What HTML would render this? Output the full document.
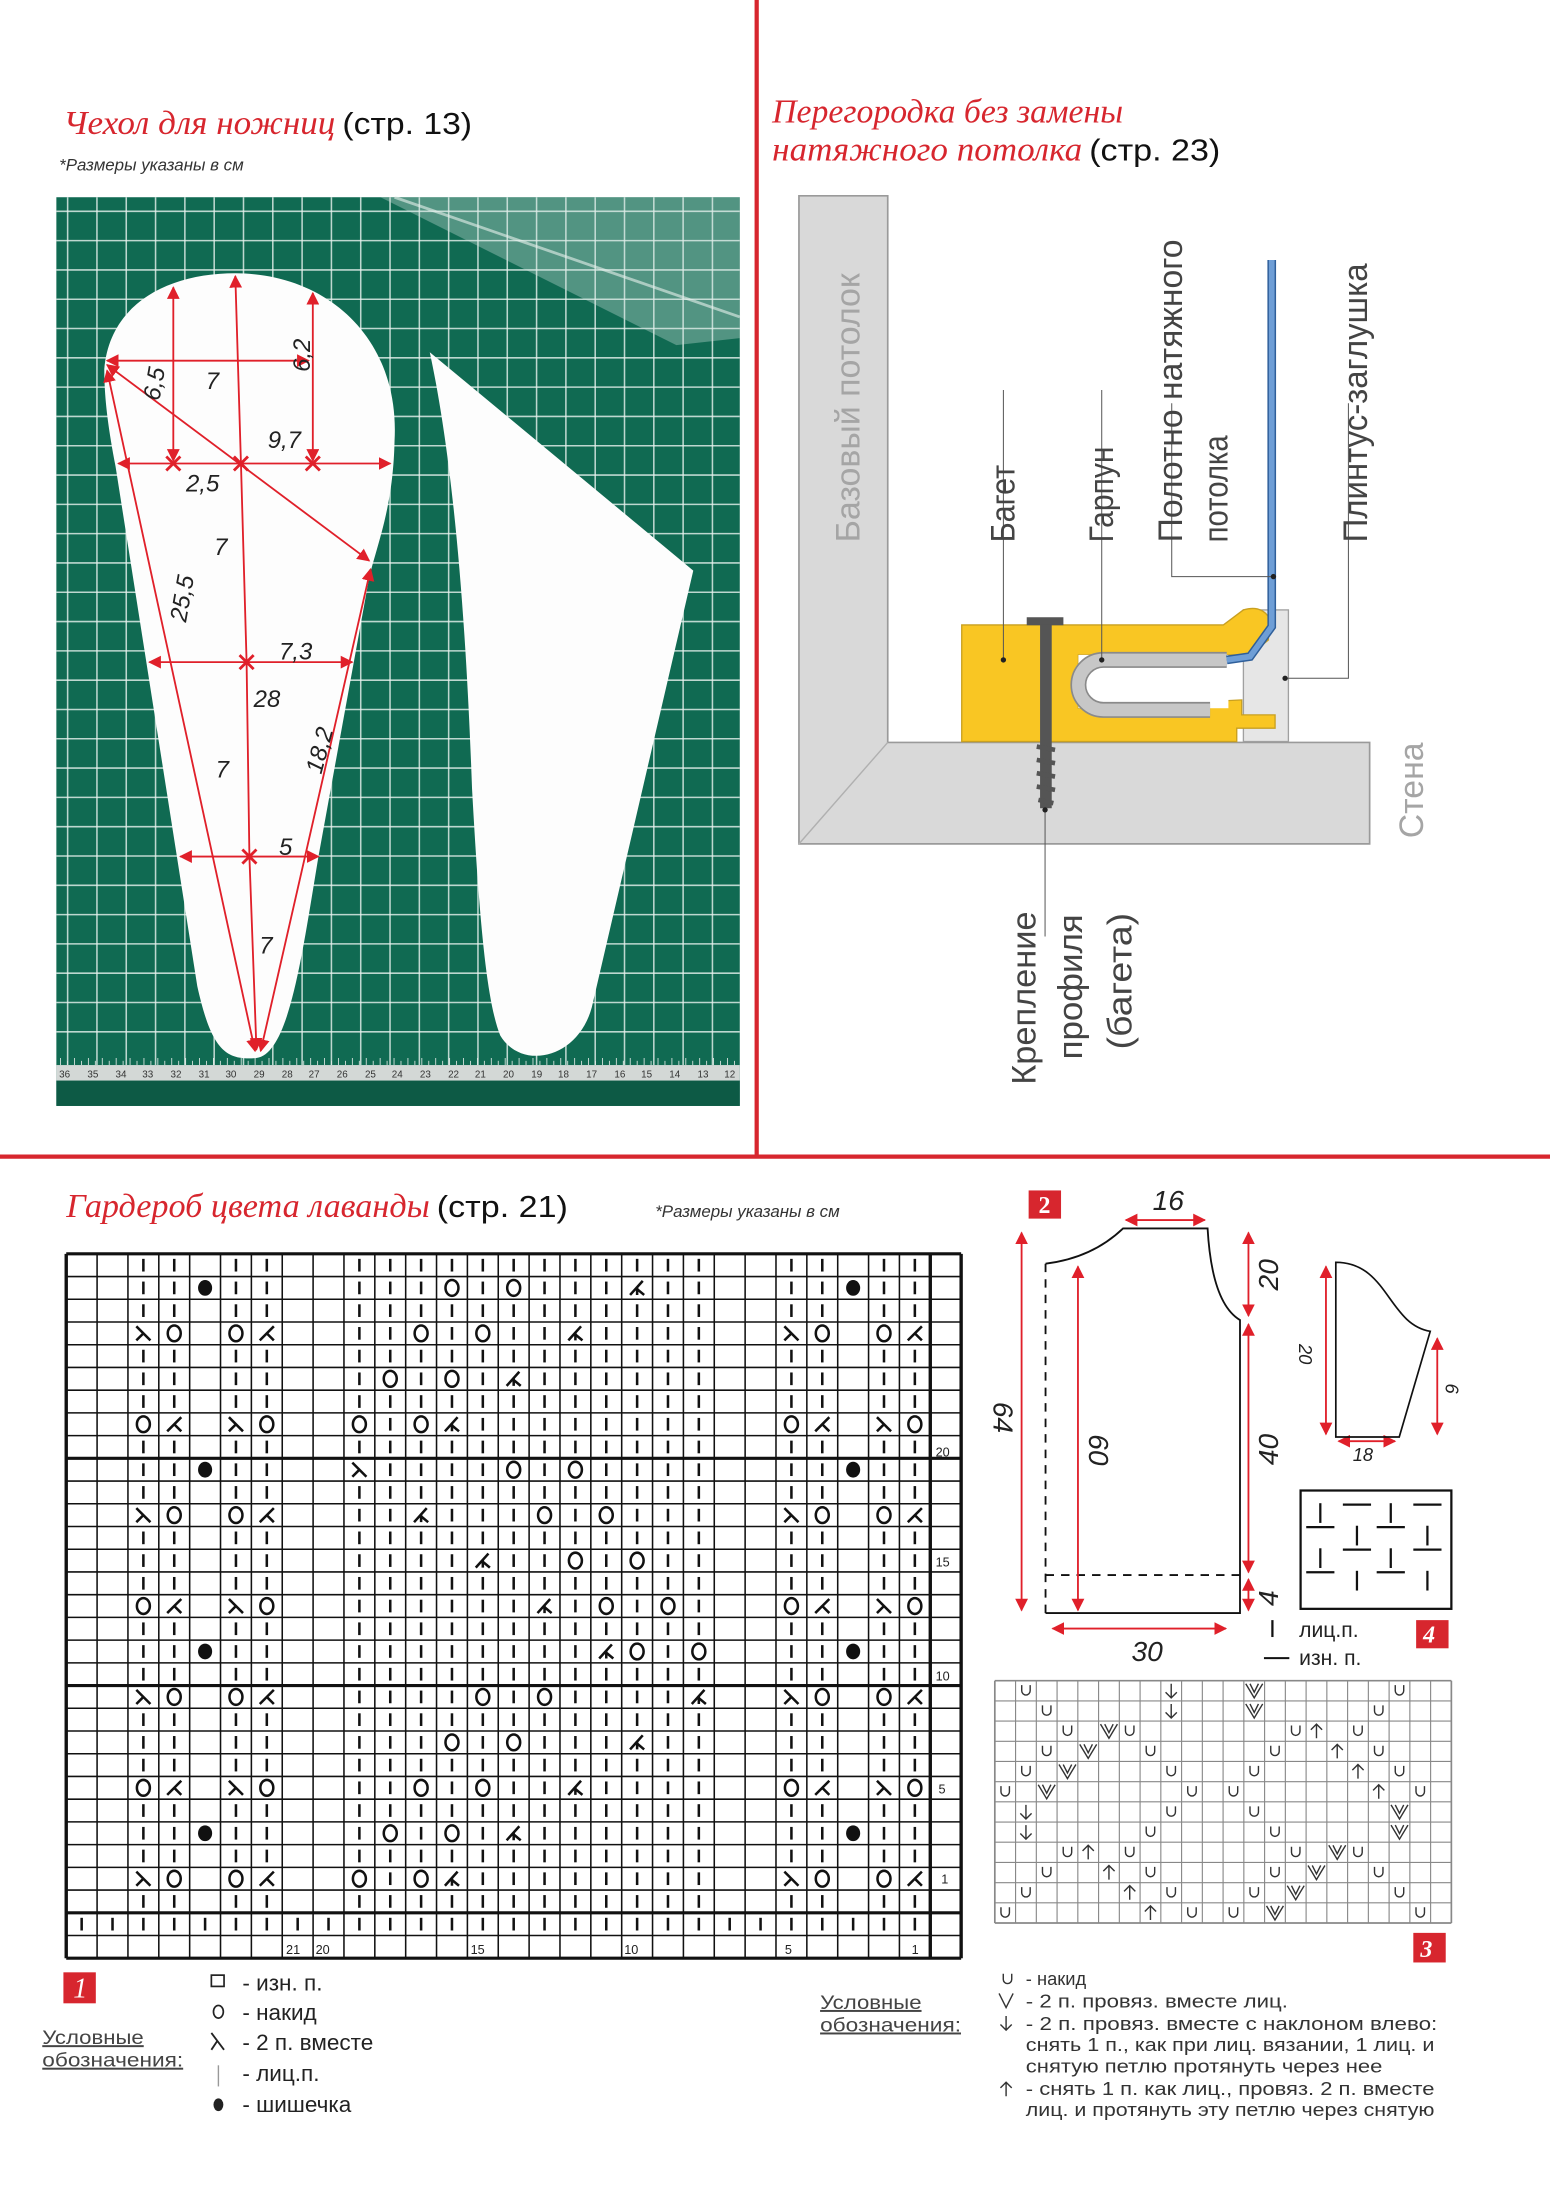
<!DOCTYPE html>
<html><head><meta charset="utf-8"><style>
html,body{margin:0;padding:0;background:#fff;}
svg{display:block}
.s{font-family:"Liberation Sans","DejaVu Sans",sans-serif}
.t{font-family:"Liberation Serif",serif;font-style:italic;fill:#d7262e}
.dim{font-family:"Liberation Sans",sans-serif;font-style:italic;font-size:17px;fill:#222}
.red{stroke:#e0202a;stroke-width:1.3;fill:none}
.lbl{font-family:"Liberation Sans",sans-serif;font-size:24px;fill:#444}
</style></head><body>
<svg id="S" width="1550" height="2209" viewBox="0 0 1100 1568" preserveAspectRatio="none" xmlns="http://www.w3.org/2000/svg">
<defs>
<marker id="ar" viewBox="0 0 10 10" refX="9" refY="5" markerWidth="7" markerHeight="7" orient="auto-start-reverse"><path d="M0,0 L10,5 L0,10 z" fill="#e0202a"/></marker>
</defs>
<line x1="537" y1="0" x2="537" y2="822" stroke="#d7262e" stroke-width="3"/>
<line x1="0" y1="821" x2="1100" y2="821" stroke="#d7262e" stroke-width="3"/>

<text x="45" y="95" class="t" font-size="24" textLength="193" lengthAdjust="spacingAndGlyphs">Чехол для ножниц</text>
<text x="243" y="95" class="s" font-size="22" fill="#111" textLength="92" lengthAdjust="spacingAndGlyphs">(стр. 13)</text>
<text x="42" y="121" class="s" font-size="12" font-style="italic" fill="#333">*Размеры указаны в см</text>

<rect x="40" y="140" width="485" height="645" fill="#106a52"/>
<g id="grid"></g>
<polygon points="270,140 525,140 525,240 480,245" fill="#cfe3dc" opacity="0.35"/>
<line x1="280" y1="140" x2="525" y2="225" stroke="#e8f2ee" stroke-width="2" opacity="0.6"/>
<rect x="40" y="767" width="485" height="18" fill="#0d5a45"/>
<rect x="40" y="756" width="485" height="11" fill="#d3d8d6"/>
<g id="ruler"></g>
<g class="s" font-size="7" fill="#333">
<text x="42" y="765">36</text><text x="62" y="765">35</text><text x="82" y="765">34</text><text x="101" y="765">33</text><text x="121" y="765">32</text><text x="141" y="765">31</text><text x="160" y="765">30</text><text x="180" y="765">29</text><text x="200" y="765">28</text><text x="219" y="765">27</text><text x="239" y="765">26</text><text x="259" y="765">25</text><text x="278" y="765">24</text><text x="298" y="765">23</text><text x="318" y="765">22</text><text x="337" y="765">21</text><text x="357" y="765">20</text><text x="377" y="765">19</text><text x="396" y="765">18</text><text x="416" y="765">17</text><text x="436" y="765">16</text><text x="455" y="765">15</text><text x="475" y="765">14</text><text x="495" y="765">13</text><text x="514" y="765">12</text>
</g>

<path d="M74,262 C78,215 120,194 167,194 C232,194 284,240 280,313 C279,360 268,385 262,410 L226,608 C214,680 205,748 182,751 C160,753 150,745 140,700 L82,331 C76,300 74,280 74,262 Z" fill="#fdfdfd"/>
<path d="M305,250 L492,405 L420,715 C410,752 370,760 355,735 C345,710 340,650 335,560 C330,420 320,320 305,250 Z" fill="#fdfdfd"/>

<g class="red">
<polyline points="167,196 171,329 175,470 177,608 182,745" marker-start="url(#ar)" marker-end="url(#ar)"/>
<line x1="76" y1="256" x2="219" y2="256" marker-start="url(#ar)" marker-end="url(#ar)"/>
<line x1="123" y1="204" x2="123" y2="327" marker-start="url(#ar)" marker-end="url(#ar)"/>
<line x1="222" y1="208" x2="222" y2="327" marker-start="url(#ar)" marker-end="url(#ar)"/>
<line x1="84" y1="329" x2="277" y2="329" marker-start="url(#ar)" marker-end="url(#ar)"/>
<line x1="76" y1="259" x2="262" y2="398" marker-start="url(#ar)" marker-end="url(#ar)"/>
<line x1="76" y1="263" x2="181" y2="746" marker-start="url(#ar)" marker-end="url(#ar)"/>
<line x1="106" y1="470" x2="250" y2="470" marker-start="url(#ar)" marker-end="url(#ar)"/>
<line x1="263" y1="404" x2="185" y2="746" marker-start="url(#ar)" marker-end="url(#ar)"/>
<line x1="128" y1="608" x2="226" y2="608" marker-start="url(#ar)" marker-end="url(#ar)"/>
</g>
<g stroke="#e0202a" stroke-width="2">
<path d="M118,324 l10,10 M128,324 l-10,10 M166,324 l10,10 M176,324 l-10,10 M217,324 l10,10 M227,324 l-10,10 M170,465 l10,10 M180,465 l-10,10 M172,603 l10,10 M182,603 l-10,10"/>
</g>
<text x="146" y="276" class="dim">7</text>
<text transform="translate(113,285) rotate(-80)" class="dim">6,5</text>
<text transform="translate(220,264) rotate(-90)" class="dim">6,2</text>
<text x="132" y="349" class="dim">2,5</text>
<text x="190" y="318" class="dim">9,7</text>
<text x="152" y="394" class="dim">7</text>
<text transform="translate(132,442) rotate(-80)" class="dim">25,5</text>
<text x="198" y="468" class="dim">7,3</text>
<text x="180" y="502" class="dim">28</text>
<text x="153" y="552" class="dim">7</text>
<text transform="translate(228,550) rotate(-75)" class="dim">18,2</text>
<text x="198" y="607" class="dim">5</text>
<text x="184" y="677" class="dim">7</text>

<text x="548" y="87" class="t" font-size="24" textLength="249" lengthAdjust="spacingAndGlyphs">Перегородка без замены</text>
<text x="548" y="114" class="t" font-size="24" textLength="220" lengthAdjust="spacingAndGlyphs">натяжного потолка</text>
<text x="773" y="114" class="s" font-size="22" fill="#111" textLength="93" lengthAdjust="spacingAndGlyphs">(стр. 23)</text>

<path d="M567,139 L630,139 L630,527 L972,527 L972,599 L567,599 Z" fill="#d9d9d9" stroke="#9a9a9a" stroke-width="1.2"/>
<line x1="630" y1="527" x2="567" y2="599" stroke="#b0b0b0" stroke-width="1"/>
<text transform="translate(610,385) rotate(-90)" class="lbl" style="fill:#a5a5a5" textLength="191" lengthAdjust="spacingAndGlyphs">Базовый потолок</text>
<text transform="translate(1010,595) rotate(-90)" class="lbl" style="fill:#a5a5a5" textLength="68" lengthAdjust="spacingAndGlyphs">Стена</text>

<g transform="scale(0.70972) translate(930,560) scale(0.33333)">
 <rect x="940" y="150" width="135" height="395" fill="#e6e6e6" stroke="#a0a0a0" stroke-width="4"/>
 <path d="M95,195 L880,195 L940,150 Q990,135 1015,170 L1015,240 L960,285 L445,285 L445,445 L935,420 L935,465 L1035,465 L1035,505 L920,505 L920,545 L95,545 Z" fill="#f9c623" stroke="#c9a020" stroke-width="4"/>
 <rect x="445" y="285" width="450" height="160" fill="#fff"/>
 <path d="M890,300 L520,300 A75,75 0 0 0 520,450 L840,450" fill="none" stroke="#8a8a8a" stroke-width="48"/>
 <path d="M890,300 L520,300 A75,75 0 0 0 520,450 L840,450" fill="none" stroke="#c7c7c7" stroke-width="38"/>
 <path d="M1025,-900 L1025,200 L960,290 L890,300" fill="none" stroke="#2f5f9a" stroke-width="26"/>
 <path d="M1025,-900 L1025,200 L960,290 L890,300" fill="none" stroke="#6e9ed6" stroke-width="17"/>
 <rect x="290" y="172" width="110" height="24" fill="#555"/>
 <rect x="330" y="195" width="35" height="550" fill="#555"/>
 <path d="M320,560 l55,10 M320,600 l55,10 M320,640 l55,10 M320,680 l55,10 M325,720 l45,10" stroke="#555" stroke-width="14"/>
 <g stroke="#555" stroke-width="3" fill="none">
  <path d="M220,-510 L220,300 M515,-510 L515,300 M725,-470 L725,50 L1030,50 M1065,355 L1255,355 L1255,-470 M345,750 L345,1130"/>
 </g>
 <g fill="#222"><circle cx="220" cy="300" r="8"/><circle cx="515" cy="300" r="8"/><circle cx="1030" cy="50" r="8"/><circle cx="1065" cy="355" r="8"/><circle cx="345" cy="750" r="8"/></g>
</g>
<text transform="translate(720,385) rotate(-90)" class="lbl" textLength="55" lengthAdjust="spacingAndGlyphs">Багет</text>
<text transform="translate(790,385) rotate(-90)" class="lbl" textLength="68" lengthAdjust="spacingAndGlyphs">Гарпун</text>
<text transform="translate(839,385) rotate(-90)" class="lbl" textLength="215" lengthAdjust="spacingAndGlyphs">Полотно натяжного</text>
<text transform="translate(871,385) rotate(-90)" class="lbl" textLength="76" lengthAdjust="spacingAndGlyphs">потолка</text>
<text transform="translate(970,385) rotate(-90)" class="lbl" textLength="198" lengthAdjust="spacingAndGlyphs">Плинтус-заглушка</text>
<text transform="translate(735,770) rotate(-90)" class="lbl" textLength="123" lengthAdjust="spacingAndGlyphs">Крепление</text>
<text transform="translate(768,752) rotate(-90)" class="lbl" textLength="103" lengthAdjust="spacingAndGlyphs">профиля</text>
<text transform="translate(803,745) rotate(-90)" class="lbl" textLength="97" lengthAdjust="spacingAndGlyphs">(багета)</text>

<text x="47" y="864" class="t" font-size="24" textLength="258" lengthAdjust="spacingAndGlyphs">Гардероб цвета лаванды</text>
<text x="310" y="864" class="s" font-size="22" fill="#111" textLength="93" lengthAdjust="spacingAndGlyphs">(стр. 21)</text>
<text x="465" y="864" class="s" font-size="12" font-style="italic" fill="#333">*Размеры указаны в см</text>
<g id="c1"></g>
<g class="s" font-size="9" fill="#222">
<text x="664" y="1034">20</text><text x="664" y="1112">15</text><text x="664" y="1193">10</text><text x="666" y="1273">5</text><text x="668" y="1337">1</text>
<text x="203" y="1387">21</text><text x="224" y="1387">20</text><text x="334" y="1387">15</text><text x="443" y="1387">10</text><text x="557" y="1387">5</text><text x="647" y="1387">1</text>
</g>
<rect x="45" y="1400" width="23" height="22" fill="#d7262e"/>
<text x="52" y="1418" font-family="Liberation Serif,serif" font-style="italic" font-size="20" fill="#fff">1</text>
<g class="s" font-size="16" fill="#222">
<rect x="150" y="1402" width="9" height="8" fill="none" stroke="#222" stroke-width="1.2"/><text x="172" y="1413">- изн. п.</text>
<ellipse cx="155" cy="1428" rx="3.5" ry="4.5" fill="none" stroke="#222" stroke-width="1.2"/><text x="172" y="1434">- накид</text>
<path d="M150,1443 L159,1455 M154,1449 L150,1455" stroke="#222" stroke-width="1.3" fill="none"/><text x="172" y="1455">- 2 п. вместе</text>
<line x1="155" y1="1466" x2="155" y2="1481" stroke="#999" stroke-width="1"/><text x="172" y="1477">- лиц.п.</text>
<ellipse cx="155" cy="1494" rx="3.5" ry="4.5" fill="#222"/><text x="172" y="1499">- шишечка</text>
</g>
<g class="s" font-size="14" fill="#444" text-decoration="underline">
<text x="30" y="1451" textLength="72" lengthAdjust="spacingAndGlyphs">Условные</text>
<text x="30" y="1467" textLength="100" lengthAdjust="spacingAndGlyphs">обозначения:</text>
<text x="582" y="1426" textLength="72" lengthAdjust="spacingAndGlyphs">Условные</text>
<text x="582" y="1442" textLength="100" lengthAdjust="spacingAndGlyphs">обозначения:</text>
</g>

<rect x="730" y="845" width="23" height="20" fill="#d7262e"/>
<text x="737" y="861" font-family="Liberation Serif,serif" font-weight="bold" font-size="17" fill="#fff">2</text>
<path d="M742,897 Q775,893 797,872 L857,872 Q860,925 880,937 L880,1145 L742,1145" fill="none" stroke="#111" stroke-width="1.3"/>
<line x1="742" y1="897" x2="742" y2="1145" stroke="#111" stroke-width="1.3" stroke-dasharray="6,5"/>
<line x1="742" y1="1118" x2="880" y2="1118" stroke="#111" stroke-width="1.3" stroke-dasharray="6,5"/>
<g class="red" stroke-width="1.2">
<line x1="725" y1="875" x2="725" y2="1143" marker-start="url(#ar)" marker-end="url(#ar)"/>
<line x1="765" y1="899" x2="765" y2="1143" marker-start="url(#ar)" marker-end="url(#ar)"/>
<line x1="799" y1="866" x2="855" y2="866" marker-start="url(#ar)" marker-end="url(#ar)"/>
<line x1="886" y1="875" x2="886" y2="934" marker-start="url(#ar)" marker-end="url(#ar)"/>
<line x1="886" y1="940" x2="886" y2="1116" marker-start="url(#ar)" marker-end="url(#ar)"/>
<line x1="886" y1="1121" x2="886" y2="1143" marker-start="url(#ar)" marker-end="url(#ar)"/>
<line x1="747" y1="1156" x2="870" y2="1156" marker-start="url(#ar)" marker-end="url(#ar)"/>
<line x1="941" y1="899" x2="941" y2="1018" marker-start="url(#ar)" marker-end="url(#ar)"/>
<line x1="1020" y1="950" x2="1020" y2="1018" marker-start="url(#ar)" marker-end="url(#ar)"/>
<line x1="950" y1="1023" x2="990" y2="1023" marker-start="url(#ar)" marker-end="url(#ar)"/>
</g>
<g class="s" font-style="italic" font-size="20" fill="#222">
<text x="818" y="859">16</text>
<text x="803" y="1179">30</text>
<text transform="translate(705,995) rotate(90)">64</text>
<text transform="translate(773,1018) rotate(90)">60</text>
<text transform="translate(907,916) rotate(-90)">20</text>
<text transform="translate(907,1040) rotate(-90)">40</text>
<text transform="translate(907,1140) rotate(-90)">4</text>
<text font-size="13" transform="translate(922,954) rotate(90)">20</text>
<text font-size="13" transform="translate(1026,982) rotate(90)">6</text>
<text font-size="13" x="960" y="1037">18</text>
</g>
<path d="M948,896 C985,896 985,940 1015,945 L993,1020 L948,1020 Z" fill="none" stroke="#111" stroke-width="1.2"/>
<rect x="923" y="1058" width="107" height="84" fill="none" stroke="#111" stroke-width="1.6"/>
<g stroke="#111" stroke-width="1.6" id="box4"></g>
<line x1="903" y1="1150" x2="903" y2="1162" stroke="#111" stroke-width="1.6"/>
<line x1="897" y1="1177" x2="915" y2="1177" stroke="#111" stroke-width="1.4"/>
<g class="s" font-size="15" fill="#222"><text x="922" y="1162">лиц.п.</text><text x="922" y="1182">изн. п.</text></g>
<rect x="1005" y="1150" width="23" height="20" fill="#d7262e"/>
<text x="1010" y="1166" font-family="Liberation Serif,serif" font-style="italic" font-weight="bold" font-size="17" fill="#fff">4</text>

<g id="c3"></g>
<rect x="1003" y="1372" width="23" height="21" fill="#d7262e"/>
<text x="1008" y="1389" font-family="Liberation Serif,serif" font-style="italic" font-weight="bold" font-size="17" fill="#fff">3</text>
<g class="s" font-size="13" fill="#333">
<path d="M712,1401 v4 a3,3 0 0 0 6,0 v-4" fill="none" stroke="#333" stroke-width="1"/>
<text x="728" y="1409">- накид</text>
<path d="M709,1415 l5,10 l5,-10" fill="none" stroke="#333" stroke-width="1"/>
<text x="728" y="1425" textLength="186" lengthAdjust="spacingAndGlyphs">- 2 п. провяз. вместе лиц.</text>
<path d="M714,1431 v10 M710,1437 l4,4 l4,-4" fill="none" stroke="#333" stroke-width="1"/>
<text x="728" y="1441" textLength="292" lengthAdjust="spacingAndGlyphs">- 2 п. провяз. вместе с наклоном влево:</text>
<text x="728" y="1456" textLength="290" lengthAdjust="spacingAndGlyphs">снять 1 п., как при лиц. вязании, 1 лиц. и</text>
<text x="728" y="1471" textLength="253" lengthAdjust="spacingAndGlyphs">снятую петлю протянуть через нее</text>
<path d="M714,1488 v-10 M710,1482 l4,-4 l4,4" fill="none" stroke="#333" stroke-width="1"/>
<text x="728" y="1487" textLength="290" lengthAdjust="spacingAndGlyphs">- снять 1 п. как лиц., провяз. 2 п. вместе</text>
<text x="728" y="1502" textLength="290" lengthAdjust="spacingAndGlyphs">лиц. и протянуть эту петлю через снятую</text>
</g>
</svg>
<script>
(function(){
var NS="http://www.w3.org/2000/svg";
function el(p,t,a){var e=document.createElementNS(NS,t);for(var k in a)e.setAttribute(k,a[k]);p.appendChild(e);return e;}
var g=document.getElementById('grid');
for(var x=48;x<525;x+=20.8)el(g,'line',{x1:x,y1:140,x2:x,y2:756,stroke:'#e9f3ef','stroke-width':1.1,opacity:.8});
for(var y=150;y<752;y+=20.8)el(g,'line',{x1:40,y1:y,x2:525,y2:y,stroke:'#e9f3ef','stroke-width':1.1,opacity:.8});
var r=document.getElementById('ruler');
for(var i=0;i<=97;i++){var xx=43+i*4.93;if(xx>525)break;el(r,'line',{x1:xx,y1:756,x2:xx,y2:i%2?753:751,stroke:'#dfe8e4','stroke-width':.6});}
var c=document.getElementById('c1'),X=47,Y=890,W=21.9,H=500/31,NC=29,NR=31;
for(var i=0;i<=NC;i++){var th=(i==0||i==28||i==29)?2.4:1.1;el(c,'line',{x1:X+i*W,y1:Y,x2:X+i*W,y2:Y+NR*H,stroke:'#111','stroke-width':th});}
for(var j=0;j<=NR;j++){var th=(j==0||j==NR||j==19||j==29||j==9)?2.2:1.1;el(c,'line',{x1:X,y1:Y+j*H,x2:X+NC*W,y2:Y+j*H,stroke:'#111','stroke-width':th});}
var plain=[2,3,5,6,9,10,11,12,13,14,15,16,17,18,19,20,23,24,26,27];
var A={2:'L',3:'O',5:'O',6:'R',23:'L',24:'O',26:'O',27:'R'};
var B={2:'O',3:'R',5:'L',6:'O',23:'O',24:'R',26:'L',27:'O'};
var Bu={4:'B',25:'B'};
function m(){var o={};for(var i=0;i<arguments.length;i++)for(var k in arguments[i])o[k]=arguments[i][k];return o;}
var ov={1:m(Bu,{12:'O',14:'O',18:'Y'}),3:m(A,{11:'O',13:'O',16:'Y'}),5:{10:'O',12:'O',14:'Y'},7:m(B,{9:'O',11:'O',12:'Y'}),
9:m(Bu,{9:'L',14:'O',16:'O'}),11:m(A,{11:'Y',15:'O',17:'O'}),13:{13:'Y',16:'O',18:'O'},15:m(B,{15:'Y',17:'O',19:'O'}),
17:m(Bu,{17:'Y',18:'O',20:'O'}),19:m(A,{13:'O',15:'O',20:'Y'}),21:{12:'O',14:'O',18:'Y'},23:m(B,{11:'O',13:'O',16:'Y'}),
25:m(Bu,{10:'O',12:'O',14:'Y'}),27:m(A,{9:'O',11:'O',12:'Y'})};
function sym(s,cx,cy){
 var st={stroke:'#111','stroke-width':1.8,fill:'none'};
 if(s=='|')el(c,'line',m(st,{x1:cx,y1:cy-4.5,x2:cx,y2:cy+4.5}));
 else if(s=='O')el(c,'ellipse',m(st,{cx:cx,cy:cy,rx:4.6,ry:5.6}));
 else if(s=='B')el(c,'ellipse',{cx:cx,cy:cy,rx:5,ry:5.6,fill:'#111'});
 else if(s=='L')el(c,'path',m(st,{d:'M'+(cx-5)+','+(cy-5)+' L'+(cx+5)+','+(cy+5)+' M'+cx+','+cy+' L'+(cx-5)+','+(cy+5)}));
 else if(s=='R')el(c,'path',m(st,{d:'M'+(cx+5)+','+(cy-5)+' L'+(cx-5)+','+(cy+5)+' M'+cx+','+cy+' L'+(cx+5)+','+(cy+5)}));
 else if(s=='Y')el(c,'path',m(st,{d:'M'+(cx+4)+','+(cy-5)+' L'+(cx-5)+','+(cy+5)+' M'+(cx-1)+','+cy+' L'+(cx+5)+','+(cy+5)+' M'+cx+','+(cy-1)+' L'+cx+','+(cy+5)}));
}
for(var rr=0;rr<30;rr++){
 var cols={};
 if(rr==29){for(var k=0;k<28;k++)cols[k]='|';}
 else{plain.forEach(function(k){cols[k]='|';});if(ov[rr])for(var k in ov[rr])cols[k]=ov[rr][k];}
 for(var k in cols)sym(cols[k],X+(+k+0.5)*W,Y+(rr+0.5)*H);
}
var c3=document.getElementById('c3'),X3=706,Y3=1193,W3=324/22,H3=172/12;
for(var i=0;i<=22;i++)el(c3,'line',{x1:X3+i*W3,y1:Y3,x2:X3+i*W3,y2:Y3+12*H3,stroke:'#888','stroke-width':(i==0||i==22)?1.2:.8});
for(var j=0;j<=12;j++)el(c3,'line',{x1:X3,y1:Y3+j*H3,x2:X3+22*W3,y2:Y3+j*H3,stroke:'#888','stroke-width':(j==0||j==12)?1.2:.8});
var d3=[[0,1,'U'],[0,8,'D'],[0,12,'V'],[0,19,'U'],[1,2,'U'],[1,8,'D'],[1,12,'V'],[1,18,'U'],
[2,3,'U'],[2,5,'V'],[2,6,'U'],[2,14,'U'],[2,15,'A'],[2,17,'U'],
[3,2,'U'],[3,4,'V'],[3,7,'U'],[3,13,'U'],[3,16,'A'],[3,18,'U'],
[4,1,'U'],[4,3,'V'],[4,8,'U'],[4,12,'U'],[4,17,'A'],[4,19,'U'],
[5,0,'U'],[5,2,'V'],[5,9,'U'],[5,11,'U'],[5,18,'A'],[5,20,'U'],
[6,1,'D'],[6,8,'U'],[6,12,'U'],[6,19,'V'],[7,1,'D'],[7,7,'U'],[7,13,'U'],[7,19,'V'],
[8,3,'U'],[8,4,'A'],[8,6,'U'],[8,14,'U'],[8,16,'V'],[8,17,'U'],
[9,2,'U'],[9,5,'A'],[9,7,'U'],[9,13,'U'],[9,15,'V'],[9,18,'U'],
[10,1,'U'],[10,6,'A'],[10,8,'U'],[10,12,'U'],[10,14,'V'],[10,19,'U'],
[11,0,'U'],[11,7,'A'],[11,9,'U'],[11,11,'U'],[11,13,'V'],[11,20,'U']];
d3.forEach(function(d){var cx=X3+(d[1]+.5)*W3,cy=Y3+(d[0]+.5)*H3,s=d[2],st={stroke:'#333','stroke-width':1,fill:'none'};
 if(s=='U')el(c3,'path',m(st,{d:'M'+(cx-3)+','+(cy-4)+' v4 a3,3 0 0 0 6,0 v-4'}));
 else if(s=='V')el(c3,'path',m(st,{d:'M'+(cx-6)+','+(cy-5)+' L'+cx+','+(cy+5)+' L'+(cx+6)+','+(cy-5)+' M'+(cx-3)+','+(cy-5)+' L'+cx+','+(cy+1)+' L'+(cx+3)+','+(cy-5)}));
 else if(s=='D')el(c3,'path',m(st,{d:'M'+cx+','+(cy-5)+' v10 M'+(cx-4)+','+(cy+1)+' l4,4 l4,-4'}));
 else if(s=='A')el(c3,'path',m(st,{d:'M'+cx+','+(cy+5)+' v-10 M'+(cx-4)+','+(cy-1)+' l4,-4 l4,4'}));
});
var b=document.getElementById('box4'),cx4=[937,963,987,1013],cy4=[1074,1090,1106,1122];
for(var j=0;j<4;j++)for(var i=0;i<4;i++){var v=((i+j)%2==0);var x=cx4[i],y=cy4[j];
 if(v)el(b,'line',{x1:x,y1:y-7,x2:x,y2:y+7});else el(b,'line',{x1:x-10,y1:y-6,x2:x+10,y2:y-6});}
})();
</script>
</body></html>
